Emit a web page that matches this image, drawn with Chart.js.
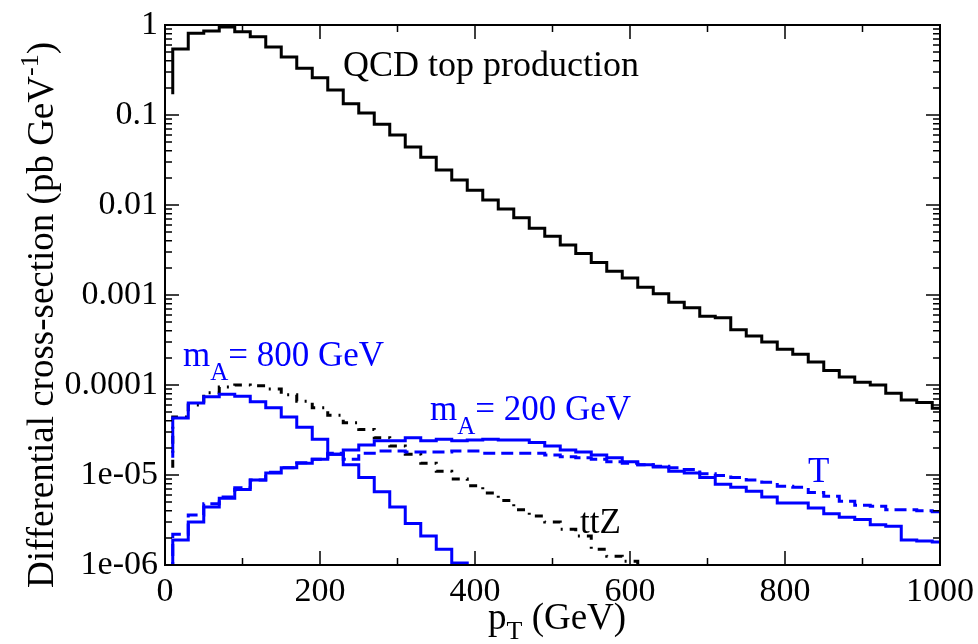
<!DOCTYPE html>
<html>
<head>
<meta charset="utf-8">
<script src="https://cdn.jsdelivr.net/npm/chart.js@4"></script>
<style>
  body { margin: 0; background: #fff; }
  canvas { display: block; }
  .probe { position: absolute; left: -9999px; top: 0; font-size: 34px; }
</style>
</head>
<body>
<div class="probe" style="font-family:'Liberation Serif'">Differential 0.001</div>
<canvas id="chart" width="978" height="644"></canvas>
<script>
/* bin edges in pT (GeV); last bin cut at the axis end */
const binEdges = [10,30,50,70,90,110,130,150,170,190,210,230,250,270,290,310,330,350,370,390,
  410,430,450,470,490,510,530,550,570,590,610,630,650,670,690,710,730,750,770,790,
  810,830,850,870,890,910,930,950,970,990,1000];

/* values read per bin, pb/GeV */
const qcdStart = 0.17;
const qcdVals = [0.54,0.81,0.86,0.95,0.84,0.74,0.57,0.44,0.33,0.26,
  0.19,0.133,0.105,0.079,0.060,0.044,0.034,0.0245,0.019,0.0146,
  0.0114,0.0090,0.0072,0.0055,0.0045,0.0036,0.0029,0.0023,0.00184,0.00154,
  0.00122,0.00103,0.00083,0.00072,0.00058,0.00056,0.00041,0.00035,0.00030,0.00025,
  0.00022,0.00018,0.000145,0.000123,0.000107,0.000100,0.000081,0.000068,0.000064,0.000055];

const ttzStart = 1.2e-5;
const ttzVals = [4.4e-5,6.0e-5,8.2e-5,9.5e-5,1.0e-4,9.8e-5,9.0e-5,7.8e-5,6.6e-5,5.6e-5,
  4.6e-5,3.8e-5,3.2e-5,2.6e-5,2.1e-5,1.7e-5,1.35e-5,1.1e-5,9.0e-6,7.6e-6,
  6.3e-6,5.2e-6,4.1e-6,3.5e-6,3.0e-6,2.5e-6,2.1e-6,1.5e-6,1.25e-6,1.1e-6,
  0.9e-6,0.6e-6];

const m800Start = 1.55e-5;
const m800Vals = [4.3e-5,6.3e-5,7.4e-5,7.9e-5,7.5e-5,6.5e-5,5.6e-5,4.4e-5,3.4e-5,2.5e-5,
  1.7e-5,1.3e-5,9.4e-6,6.5e-6,4.4e-6,2.9e-6,2.1e-6,1.5e-6,1.05e-6,0.6e-6];

const m200Start = 5e-7;
const m200Vals = [1.9e-6,3.0e-6,4.4e-6,5.5e-6,6.9e-6,8.8e-6,1.05e-5,1.2e-5,1.35e-5,1.5e-5,
  1.7e-5,1.9e-5,2.15e-5,2.4e-5,2.4e-5,2.6e-5,2.4e-5,2.5e-5,2.4e-5,2.45e-5,
  2.5e-5,2.45e-5,2.45e-5,2.3e-5,2.1e-5,1.9e-5,1.8e-5,1.67e-5,1.55e-5,1.4e-5,
  1.3e-5,1.23e-5,1.1e-5,1.05e-5,9.4e-6,7.9e-6,7.3e-6,6.6e-6,5.7e-6,4.9e-6,
  4.9e-6,4.3e-6,3.7e-6,3.4e-6,3.2e-6,2.8e-6,2.7e-6,1.9e-6,1.85e-6,1.8e-6];

const tStart = 5e-7;
const tVals = [2.2e-6,3.6e-6,4.8e-6,5.7e-6,7.2e-6,8.8e-6,1.07e-5,1.2e-5,1.37e-5,1.5e-5,
  1.75e-5,1.5e-5,1.75e-5,1.85e-5,1.85e-5,1.8e-5,1.8e-5,1.8e-5,1.85e-5,1.85e-5,
  1.75e-5,1.75e-5,1.75e-5,1.75e-5,1.67e-5,1.6e-5,1.55e-5,1.5e-5,1.4e-5,1.35e-5,
  1.3e-5,1.25e-5,1.2e-5,1.15e-5,1.03e-5,9.9e-6,9.4e-6,8.8e-6,8.3e-6,7.5e-6,
  7.3e-6,6.4e-6,5.8e-6,5.1e-6,4.6e-6,4.5e-6,4.1e-6,4.1e-6,4.0e-6,3.9e-6];

/* axis ticks */
const xTicks = [0,200,400,600,800,1000];
const xMinorTicks = [100,300,500,700,900];
const yTicks = [1e-6,1e-5,1e-4,1e-3,1e-2,0.1,1];
const yTickLabels = ['1e-06','1e-05','0.0001','0.001','0.01','0.1','1'];

const FONT = "'Liberation Serif', 'Times New Roman', Times, serif";
const BLUE = '#0000ff';

/* histogram outline: start point, then flat segment per bin */
function steps(start, vals){
  const pts = [{x: binEdges[0], y: start}];
  vals.forEach((v,i)=>{
    pts.push({x: binEdges[i], y: v}, {x: binEdges[i+1], y: v});
  });
  return pts;
}

function line(data, color, dash){
  return {data, borderColor: color, borderWidth: 3, borderDash: dash || [],
    pointRadius: 0, fill: false, tension: 0, borderJoinStyle: 'miter'};
}

/* text with a sub/superscript part: parts = [[text, size, dy], ...] */
function drawParts(ctx, parts, x, y, color){
  ctx.fillStyle = color;
  ctx.textBaseline = 'alphabetic';
  ctx.textAlign = 'left';
  parts.forEach(([t,size,dy])=>{
    ctx.font = size + 'px ' + FONT;
    ctx.fillText(t, x, y + dy);
    x += ctx.measureText(t).width;
  });
}
function partsWidth(ctx, parts){
  let w = 0;
  parts.forEach(([t,size])=>{ ctx.font = size + 'px ' + FONT; w += ctx.measureText(t).width; });
  return w;
}

const frame = {
  id: 'frame',
  afterDraw(chart){
    const {ctx, chartArea: a, scales: {x, y}} = chart;
    ctx.save();
    ctx.strokeStyle = '#000';
    ctx.lineWidth = 2;
    ctx.strokeRect(a.left, a.top, a.right - a.left, a.bottom - a.top);

    ctx.lineWidth = 1.5;
    ctx.beginPath();
    const xt = (v, len)=>{
      const px = x.getPixelForValue(v);
      ctx.moveTo(px, a.bottom); ctx.lineTo(px, a.bottom - len);
      ctx.moveTo(px, a.top); ctx.lineTo(px, a.top + len);
    };
    const yt = (v, len)=>{
      const py = y.getPixelForValue(v);
      ctx.moveTo(a.left, py); ctx.lineTo(a.left + len, py);
      ctx.moveTo(a.right, py); ctx.lineTo(a.right - len, py);
    };
    xTicks.forEach(v=>xt(v, 14));
    xMinorTicks.forEach(v=>xt(v, 7));
    yTicks.forEach(v=>yt(v, 14));
    for(let k=0;k<yTicks.length-1;k++){
      for(let m=2;m<10;m++) yt(m*yTicks[k], 7);
    }
    ctx.stroke();

    /* tick labels */
    ctx.fillStyle = '#000';
    ctx.font = '34px ' + FONT;
    ctx.textAlign = 'center';
    ctx.textBaseline = 'alphabetic';
    xTicks.forEach(v=>ctx.fillText(String(v), x.getPixelForValue(v), a.bottom + 36));
    ctx.textAlign = 'right';
    ctx.textBaseline = 'middle';
    yTicks.forEach((v,i)=>ctx.fillText(yTickLabels[i], a.left - 7, y.getPixelForValue(v)));

    /* axis titles */
    drawParts(ctx, [['p',37,0],['T',26,10],[' (GeV)',37,0]], 488, 629, '#000');
    const yTitle = [['Differential cross-section (pb GeV',37,0],['-1',26,-15],[')',37,0]];
    ctx.save();
    ctx.translate(53, 315);
    ctx.rotate(-Math.PI/2);
    drawParts(ctx, yTitle, -partsWidth(ctx, yTitle)/2, 0, '#000');
    ctx.restore();

    /* curve annotations */
    drawParts(ctx, [['QCD top production',36,0]], 343, 76, '#000');
    drawParts(ctx, [['m',35,0],['A',25,14],['= 800 GeV',35,0]], 183, 366, BLUE);
    drawParts(ctx, [['m',35,0],['A',25,14],['= 200 GeV',35,0]], 430, 420, BLUE);
    drawParts(ctx, [['T',35,0]], 808, 482, BLUE);
    drawParts(ctx, [['ttZ',35,0]], 580, 533, '#000');
    ctx.restore();
  }
};

function build(){
  new Chart(document.getElementById('chart'), {
    type: 'line',
    data: {
      datasets: [
        line(steps(qcdStart, qcdVals), '#000'),
        line(steps(m800Start, m800Vals), BLUE),
        line(steps(m200Start, m200Vals), BLUE),
        line(steps(tStart, tVals), BLUE, [12,6]),
        line(steps(ttzStart, ttzVals), '#000', [8,7,2,7])
      ]
    },
    options: {
      responsive: false,
      animation: false,
      layout: {padding: {left: 165, right: 38, top: 25, bottom: 79}},
      plugins: {legend: {display: false}, tooltip: {enabled: false}},
      scales: {
        x: {type: 'linear', min: 0, max: 1000, display: false},
        y: {type: 'logarithmic', min: 1e-6, max: 1, display: false}
      }
    },
    plugins: [frame]
  });
}

document.fonts.load("34px 'Liberation Serif'").catch(()=>{}).then(build);
</script>
</body>
</html>
